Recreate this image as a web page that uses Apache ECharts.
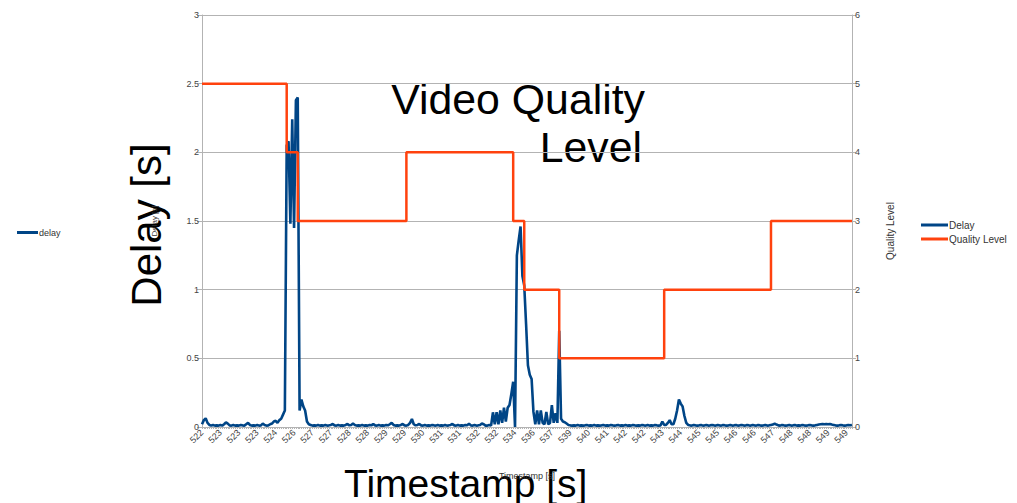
<!DOCTYPE html>
<html><head><meta charset="utf-8">
<script src="https://cdn.jsdelivr.net/npm/echarts@6/dist/echarts.min.js"></script>
<style>html,body{margin:0;padding:0;background:#fff}#c{width:1017px;height:503px}</style>
</head><body><div id="c"></div>
<script>
// Tick labels shown every 10 samples
const tickLabels = ['522','523','523','523','524','526','527','527','528','528','529','529','530','531','531','532','532','534',
  '536','537','539','540','541','542','542','543','544','545','545','546','546','547','548','548','549','549'];
const samplesPerTick = 10;

// Delay [s] per sample
const delay = [
  0.02,0.05,0.063,0.03,0.015,0.01,0.015,0.01,0.012,0.01,
  0.015,0.01,0.02,0.034,0.025,0.012,0.01,0.015,0.01,0.012,
  0.01,0.015,0.012,0.01,0.02,0.03,0.015,0.01,0.012,0.01,
  0.015,0.01,0.012,0.025,0.015,0.01,0.012,0.02,0.025,0.04,
  0.045,0.03,0.05,0.06,0.09,0.12,2.05,2.08,1.48,2.24,
  1.45,2.38,2.4,0.12,0.2,0.15,0.12,0.04,0.02,0.015,
  0.01,0.012,0.01,0.015,0.01,0.012,0.01,0.015,0.01,0.012,
  0.015,0.022,0.012,0.01,0.015,0.01,0.012,0.01,0.015,0.022,
  0.012,0.015,0.025,0.015,0.01,0.012,0.01,0.015,0.01,0.012,
  0.01,0.015,0.012,0.022,0.012,0.01,0.015,0.01,0.012,0.01,
  0.015,0.012,0.02,0.03,0.015,0.01,0.012,0.01,0.015,0.022,
  0.012,0.01,0.015,0.03,0.058,0.02,0.012,0.015,0.022,0.012,
  0.01,0.015,0.01,0.012,0.01,0.015,0.012,0.01,0.015,0.01,
  0.012,0.01,0.015,0.01,0.012,0.015,0.022,0.012,0.01,0.015,
  0.01,0.012,0.01,0.015,0.012,0.025,0.012,0.01,0.015,0.01,
  0.012,0.015,0.025,0.02,0.01,0.01,0.015,0.01,0.107,0.02,
  0.107,0.02,0.12,0.03,0.14,0.04,0.14,0.16,0.24,0.33,
  0.0,1.25,1.36,1.46,1.1,1.03,0.75,0.45,0.38,0.35,
  0.11,0.02,0.12,0.02,0.12,0.03,0.02,0.11,0.02,0.03,
  0.16,0.03,0.1,0.03,0.7,0.06,0.04,0.035,0.025,0.015,
  0.012,0.01,0.012,0.01,0.015,0.01,0.012,0.01,0.012,0.015,
  0.01,0.012,0.01,0.015,0.01,0.012,0.01,0.012,0.015,0.01,
  0.012,0.01,0.015,0.012,0.01,0.012,0.015,0.01,0.012,0.01,
  0.015,0.01,0.012,0.01,0.015,0.012,0.01,0.012,0.01,0.015,
  0.012,0.01,0.015,0.01,0.012,0.01,0.015,0.012,0.01,0.012,
  0.04,0.015,0.015,0.03,0.05,0.02,0.02,0.06,0.12,0.2,
  0.17,0.15,0.08,0.03,0.015,0.012,0.01,0.015,0.012,0.01,
  0.012,0.015,0.01,0.012,0.015,0.01,0.012,0.015,0.012,0.01,
  0.015,0.012,0.01,0.015,0.012,0.01,0.012,0.015,0.01,0.012,
  0.015,0.01,0.012,0.015,0.012,0.01,0.015,0.012,0.01,0.015,
  0.012,0.01,0.015,0.012,0.01,0.012,0.015,0.01,0.012,0.015,
  0.018,0.025,0.018,0.012,0.01,0.015,0.012,0.01,0.012,0.015,
  0.01,0.012,0.015,0.01,0.012,0.01,0.015,0.012,0.01,0.012,
  0.015,0.012,0.01,0.012,0.015,0.018,0.02,0.022,0.02,0.022,
  0.02,0.022,0.018,0.015,0.012,0.01,0.012,0.015,0.012,0.01,
  0.012,0.015,0.012,0.015
];

// Quality level: [sample index where level starts, level]
const qualitySteps = [[0,5],[46,4],[52,3],[111,4],[169,3],[175,2],[194,1],[251,2],[309,3]];

const sampleIndex = delay.map((_, i) => String(i));
const qualityData = qualitySteps.map(s => [s[0], s[1]]);
qualityData.push([delay.length - 1, qualitySteps[qualitySteps.length - 1][1]]);

const FONT = 'Liberation Sans';
const GRAY = '#b3b3b3';
const chart = echarts.init(document.getElementById('c'), null, {renderer: 'svg'});
chart.setOption({
  animation: false,
  backgroundColor: '#fff',
  textStyle: {fontFamily: FONT},
  grid: {left: 202, right: 165, top: 15, bottom: 76, containLabel: false},
  legend: [
    {data: ['Delay', 'Quality Level'], orient: 'vertical', left: 916, top: 215, icon: 'rect',
     itemWidth: 27, itemHeight: 3, itemGap: 4,
     textStyle: {fontSize: 10, color: '#333', fontFamily: FONT, padding: [0,0,0,-4]}},
    {data: ['delay'], left: 12, top: 223, icon: 'rect', itemWidth: 21, itemHeight: 3,
     textStyle: {fontSize: 9, color: '#333', fontFamily: FONT, padding: [0,0,0,-4]}}
  ],
  xAxis: {
    type: 'category', data: sampleIndex, boundaryGap: false,
    name: 'Timestamp [s]', nameLocation: 'middle', nameGap: 44,
    nameTextStyle: {fontSize: 9, color: '#333'},
    axisLine: {lineStyle: {color: GRAY, width: 1}},
    axisTick: {show: true, interval: 0, length: 2, lineStyle: {color: GRAY}},
    axisLabel: {
      interval: (i) => i % samplesPerTick === 0,
      rotate: 45, fontSize: 9, color: '#444', margin: 4,
      formatter: (v) => tickLabels[Math.floor(Number(v) / samplesPerTick)] || ''
    },
    splitLine: {show: false}
  },
  yAxis: [
    {type: 'value', min: 0, max: 3, interval: 0.5, position: 'left',
     name: 'Delay [s]', nameLocation: 'middle', nameGap: 44, nameRotate: 90,
     nameTextStyle: {fontSize: 8, color: '#333'},
     axisLine: {show: true, lineStyle: {color: GRAY}},
     axisTick: {show: true, length: 5, lineStyle: {color: GRAY}},
     axisLabel: {fontSize: 9, color: '#444', margin: 3},
     splitLine: {lineStyle: {color: GRAY}}},
    {type: 'value', min: 0, max: 6, interval: 1, position: 'right',
     name: 'Quality Level', nameLocation: 'middle', nameGap: 33, nameRotate: 90,
     nameTextStyle: {fontSize: 10, color: '#333', padding: [0, 20, 0, 0]},
     axisLine: {show: true, lineStyle: {color: GRAY}},
     axisTick: {show: true, length: 4, lineStyle: {color: GRAY}},
     axisLabel: {fontSize: 9, color: '#444', margin: 3},
     splitLine: {show: false}}
  ],
  series: [
    {name: 'Delay', type: 'line', yAxisIndex: 0, data: delay, symbol: 'none',
     color: '#004586', lineStyle: {width: 2.6, color: '#004586'}},
    {name: 'Quality Level', type: 'line', yAxisIndex: 1, data: qualityData, step: 'end', symbol: 'none',
     color: '#ff420e', lineStyle: {width: 2.5, color: '#ff420e'}},
    {name: 'delay', type: 'line', data: [], color: '#004586', lineStyle: {color: '#004586'}}
  ],
  graphic: [
    {type: 'text', x: 645, y: 99, style: {text: 'Video Quality', font: '42.8px "Liberation Sans"', fill: '#000', align: 'right', verticalAlign: 'middle'}},
    {type: 'text', x: 642, y: 147, style: {text: 'Level', font: '42.8px "Liberation Sans"', fill: '#000', align: 'right', verticalAlign: 'middle'}},
    {type: 'text', x: 344, y: 483, style: {text: 'Timestamp [s]', font: '39px "Liberation Sans"', fill: '#000', align: 'left', verticalAlign: 'middle'}},
    {type: 'text', x: 146, y: 225, rotation: Math.PI / 2, style: {text: 'Delay [s]', font: '42px "Liberation Sans"', fill: '#000', align: 'center', verticalAlign: 'middle'}}
  ]
});
</script></body></html>
